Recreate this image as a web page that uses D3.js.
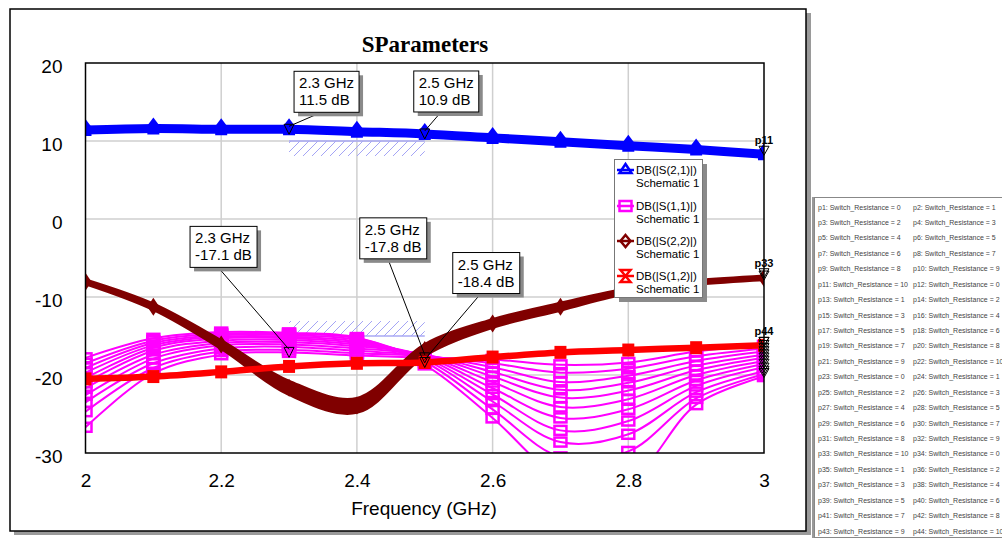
<!DOCTYPE html>
<html><head><meta charset="utf-8">
<script src="https://cdn.jsdelivr.net/npm/d3@7/dist/d3.min.js"></script>
<style>
body{margin:0;background:#fff;}
text{font-family:"Liberation Sans",Arial,sans-serif;}
</style>
</head><body>
<svg id="chart" width="1002" height="540"></svg>
<script>
// ---------- DATA ----------
const freqs = [2.0, 2.1, 2.2, 2.3, 2.4, 2.5, 2.6, 2.7, 2.8, 2.9, 3.0];
const s21 = [11.4, 11.6, 11.5, 11.5, 11.2, 10.9, 10.4, 9.9, 9.4, 8.9, 8.3];
const s22Upper = [-7.9, -11.0, -15.7, -20.9, -23.1, -16.2, -13.0, -10.9, -9.0, -8.0, -7.4];
const s22Lower = [-8.2, -11.5, -16.5, -22.4, -24.7, -17.4, -13.8, -11.6, -9.4, -8.3, -7.7];
const s12 = [-20.5, -20.2, -19.6, -18.9, -18.5, -18.4, -17.7, -17.1, -16.8, -16.5, -16.2];
// S11, one row per Switch_Resistance = 0..10
const s11Sweep = [
  [-26.7, -19.8, -17.4, -17.1, -17.5, -17.8, -18.0, -18.7, -18.4, -17.0, -16.2],
  [-24.7, -19.1, -17.0, -16.8, -17.2, -17.6, -18.5, -19.7, -19.2, -17.6, -16.6],
  [-23.5, -18.5, -16.6, -16.4, -16.9, -17.5, -19.0, -20.9, -20.1, -18.2, -17.0],
  [-22.6, -17.9, -16.2, -16.1, -16.6, -17.4, -19.6, -21.9, -21.0, -18.8, -17.4],
  [-21.7, -17.4, -15.9, -15.8, -16.3, -17.4, -20.2, -22.9, -22.0, -19.4, -17.8],
  [-21.0, -16.9, -15.6, -15.5, -16.1, -17.5, -20.9, -24.1, -23.1, -20.0, -18.2],
  [-20.4, -16.5, -15.3, -15.3, -15.9, -17.6, -21.7, -25.5, -24.4, -20.7, -18.6],
  [-19.7, -16.2, -15.1, -15.1, -15.7, -17.8, -22.5, -27.1, -25.9, -21.4, -19.0],
  [-19.1, -15.9, -14.9, -14.9, -15.5, -18.0, -23.4, -28.6, -27.6, -22.2, -19.5],
  [-18.5, -15.6, -14.7, -14.7, -15.3, -18.3, -24.4, -30.5, -29.8, -23.0, -19.9],
  [-17.8, -15.3, -14.5, -14.6, -15.2, -18.7, -25.5, -33.0, -33.5, -23.8, -20.2]
];
const yTicks = [20, 10, 0, -10, -20, -30];
const xTicks = [2, 2.2, 2.4, 2.6, 2.8, 3];
const legendNames = ["DB(|S(2,1)|)", "DB(|S(1,1)|)", "DB(|S(2,2)|)", "DB(|S(1,2)|)"];
const legendSub = "Schematic 1";
const switchResistance = [0,1,2,3,4,5,6,7,8,9,10];
// markers: frequency, value shown
const markerFreq = [2.3, 2.5, 2.3, 2.5, 2.5];
const markerVal = [11.5, 10.9, -17.1, -17.8, -18.4];
// goals: [f1, f2, level]
const goalS21 = [2.3, 2.5, 10];
const goalS11 = [2.3, 2.5, -15];
const endLabels = ["p11", "p33", "p44"];

// ---------- LAYOUT ----------
const W = 1002, H = 540;
const svg = d3.select("#chart");
const x = d3.scaleLinear().domain([2, 3]).range([85.5, 764]);
const y = d3.scaleLinear().domain([-30, 20]).range([453, 63]);
const COL = {s21:"#0000ff", s11:"#ff00ff", s22:"#800000", s12:"#ff0000"};

svg.append("rect").attr("width", W).attr("height", H).attr("fill", "#fff");
// outer frame with shadow
svg.append("rect").attr("x", 14).attr("y", 13).attr("width", 797).attr("height", 522).attr("fill", "#9a9a9a");
svg.append("rect").attr("x", 10).attr("y", 9).attr("width", 796).attr("height", 522)
  .attr("fill", "#fff").attr("stroke", "#000").attr("stroke-width", 1.5);

// title
svg.append("text").attr("x", 425).attr("y", 52).attr("text-anchor", "middle")
  .style("font-family", "'Liberation Serif','Times New Roman',serif")
  .style("font-weight", "bold").style("font-size", "23px").text("SParameters");

// defs
const defs = svg.append("defs");
defs.append("clipPath").attr("id", "plotclip").append("rect")
  .attr("x", 85.5).attr("y", 63).attr("width", 764 - 85.5).attr("height", 453 - 63);
const pat = defs.append("pattern").attr("id", "hatch").attr("patternUnits", "userSpaceOnUse")
  .attr("width", 9).attr("height", 9);
pat.append("path").attr("d", "M-1,10 L10,-1 M-2,2 L2,-2 M7,11 L11,7")
  .attr("stroke", "#a4a4f5").attr("stroke-width", 1);

// grid
const grid = svg.append("g");
grid.selectAll("line.gx").data(xTicks.filter(t => t > 2 && t < 3)).join("line")
  .attr("x1", d => x(d)).attr("x2", d => x(d)).attr("y1", 63).attr("y2", 453)
  .attr("stroke", "#cfcfcf").attr("stroke-width", 1.5);
grid.selectAll("line.gy").data(yTicks.filter(t => t > -30 && t < 20)).join("line")
  .attr("y1", d => y(d)).attr("y2", d => y(d)).attr("x1", 85.5).attr("x2", 764)
  .attr("stroke", "#cfcfcf").attr("stroke-width", 1.5);

// axes
const fmt = d => String(d);
const ax = svg.append("g").attr("transform", "translate(0,453)")
  .call(d3.axisBottom(x).tickValues(xTicks).tickSize(0).tickPadding(21).tickFormat(fmt));
const ay = svg.append("g").attr("transform", "translate(85.5,0)")
  .call(d3.axisLeft(y).tickValues(yTicks).tickSize(0).tickPadding(23).tickFormat(fmt));
[ax, ay].forEach(g => {
  g.select(".domain").remove();
  g.selectAll("text").style("font-size", "19px").attr("fill", "#000")
    .style("font-family", "'Liberation Sans',Arial,sans-serif");
});
ay.selectAll("text").attr("dy", "0.5em");
svg.append("text").attr("x", 424).attr("y", 515).attr("text-anchor", "middle")
  .style("font-size", "19px").text("Frequency (GHz)");

// goals (hatched)
const gG = svg.append("g");
gG.append("rect").attr("x", x(goalS21[0])).attr("y", y(goalS21[2]))
  .attr("width", x(goalS21[1]) - x(goalS21[0])).attr("height", 15).attr("fill", "url(#hatch)");
gG.append("line").attr("x1", x(goalS21[0])).attr("x2", x(goalS21[1]))
  .attr("y1", y(goalS21[2])).attr("y2", y(goalS21[2])).attr("stroke", "#a8a8f5").attr("stroke-width", 1.5);
gG.append("rect").attr("x", x(goalS11[0])).attr("y", y(goalS11[2]) - 15)
  .attr("width", x(goalS11[1]) - x(goalS11[0])).attr("height", 15).attr("fill", "url(#hatch)");
gG.append("line").attr("x1", x(goalS11[0])).attr("x2", x(goalS11[1]))
  .attr("y1", y(goalS11[2])).attr("y2", y(goalS11[2])).attr("stroke", "#a8a8f5").attr("stroke-width", 1.5);

// traces
const plot = svg.append("g").attr("clip-path", "url(#plotclip)");
const curve = d3.curveCatmullRom.alpha(0.5);
const line = d3.line().x((d, i) => x(freqs[i])).y(d => y(d)).curve(curve);

// S11 sweep
s11Sweep.forEach(arr => {
  plot.append("path").attr("d", line(arr)).attr("fill", "none")
    .attr("stroke", COL.s11).attr("stroke-width", 2);
});
s11Sweep.forEach(arr => {
  plot.selectAll(null).data(arr).join("rect")
    .attr("x", (d, i) => x(freqs[i]) - 6).attr("y", d => y(d) - 4.5)
    .attr("width", 12).attr("height", 9)
    .attr("fill", "none").attr("stroke", COL.s11).attr("stroke-width", 2.5);
});

// S22 (bundle of sweeps shown as a band between its envelopes)
const s22Area = d3.area().x((d, i) => x(freqs[i])).y0((d, i) => y(s22Lower[i])).y1(d => y(d)).curve(curve);
plot.append("path").attr("d", s22Area(s22Upper)).attr("fill", COL.s22)
  .attr("stroke", COL.s22).attr("stroke-width", 4.5).attr("stroke-linejoin", "round");
plot.selectAll(null).data(s22Upper).join("path")
  .attr("transform", (d, i) => `translate(${x(freqs[i])},${y((d + s22Lower[i]) / 2)})`)
  .attr("d", "M0,-9 L6,0 L0,9 L-6,0 Z").attr("fill", COL.s22);

// S12
plot.append("path").attr("d", line(s12)).attr("fill", "none")
  .attr("stroke", COL.s12).attr("stroke-width", 6.5);
plot.selectAll(null).data(s12).join("rect")
  .attr("x", (d, i) => x(freqs[i]) - 6).attr("y", d => y(d) - 6.5)
  .attr("width", 12).attr("height", 13).attr("fill", COL.s12);

// S21
plot.append("path").attr("d", line(s21)).attr("fill", "none")
  .attr("stroke", COL.s21).attr("stroke-width", 9);
plot.selectAll(null).data(s21).join("path")
  .attr("transform", (d, i) => `translate(${x(freqs[i])},${y(d)})`)
  .attr("d", "M0,-11 L6,-3 L6,6 L-6,6 L-6,-3 Z").attr("fill", COL.s21);

// plot border
svg.append("rect").attr("x", 85.5).attr("y", 63).attr("width", 764 - 85.5).attr("height", 453 - 63)
  .attr("fill", "none").attr("stroke", "#000").attr("stroke-width", 1.5);

// end-of-sweep markers at 3 GHz
const last = freqs.length - 1;
const endVals = [s21[last], s22Upper[last], s22Lower[last], s12[last]].concat(s11Sweep.map(a => a[last]));
svg.selectAll(null).data(endVals).join("path")
  .attr("transform", d => `translate(${x(3)},${y(d)})`)
  .attr("d", "M-5,-8 L5,-8 L0,1 Z").attr("fill", "none").attr("stroke", "#000").attr("stroke-width", 1);
const endLabelVals = [s21[last], s22Upper[last], s12[last]];
svg.selectAll(null).data(endLabelVals).join("text")
  .attr("x", x(3)).attr("y", d => y(d) - 10).attr("text-anchor", "middle")
  .style("font-size", "11px").style("font-weight", "bold").text((d, i) => endLabels[i]);

// marker callouts
const boxOffset = [[5, -58], [-11, -63], [-99, -126], [-65, -140], [28, -110]];
markerFreq.forEach((f, i) => {
  const px = x(f), py = y(markerVal[i]);
  const bx = px + boxOffset[i][0], by = py + boxOffset[i][1];
  const g = svg.append("g");
  const t1 = f.toFixed(1) + " GHz", t2 = markerVal[i].toFixed(1) + " dB";
  const tmp = g.append("text").style("font-size", "15px").text(t2.length > t1.length ? t2 : t1);
  const tw = tmp.node().getComputedTextLength(); tmp.remove();
  const bw = Math.round(tw + 10), bh = 41;
  g.append("line").attr("x1", bx + bw * 0.42).attr("y1", by + bh).attr("x2", px).attr("y2", py - 3)
    .attr("stroke", "#000").attr("stroke-width", 1);
  g.append("rect").attr("x", bx + 4).attr("y", by + 4).attr("width", bw).attr("height", bh).attr("fill", "#8a8a8a");
  g.append("rect").attr("x", bx).attr("y", by).attr("width", bw).attr("height", bh)
    .attr("fill", "#fff").attr("stroke", "#000").attr("stroke-width", 1);
  g.append("text").attr("x", bx + 5).attr("y", by + 17).style("font-size", "15px").text(t1);
  g.append("text").attr("x", bx + 5).attr("y", by + 34).style("font-size", "15px").text(t2);
  g.append("path").attr("transform", `translate(${px},${py})`)
    .attr("d", "M-5,-5 L5,-5 L0,5 Z").attr("fill", "none").attr("stroke", "#000").attr("stroke-width", 1);
});

// legend
const lg = svg.append("g");
lg.append("rect").attr("x", 619).attr("y", 164).attr("width", 88).attr("height", 138).attr("fill", "#8a8a8a");
lg.append("rect").attr("x", 614.5).attr("y", 159.5).attr("width", 88).attr("height", 138)
  .attr("fill", "#fff").attr("stroke", "#777").attr("stroke-width", 1);
const iconPaths = ["M0,-6 L6,3 L-6,3 Z", "M-6,-5 L6,-5 L6,5 L-6,5 Z", "M0,-6 L5,0 L0,6 L-5,0 Z", "M-5,-6 L5,-6 L-5,6 L5,6 Z"];
const iconCols = [COL.s21, COL.s11, COL.s22, COL.s12];
const legY = [170, 206, 241, 276];
legendNames.forEach((n, i) => {
  lg.append("line").attr("x1", 617).attr("x2", 634).attr("y1", legY[i]).attr("y2", legY[i])
    .attr("stroke", iconCols[i]).attr("stroke-width", 2.5);
  lg.append("path").attr("transform", `translate(625.5,${legY[i]})`).attr("d", iconPaths[i])
    .attr("fill", "none").attr("stroke", iconCols[i]).attr("stroke-width", 2.5);
  lg.append("text").attr("x", 636).attr("y", legY[i] + 4).style("font-size", "11.5px").text(n);
  lg.append("text").attr("x", 636).attr("y", legY[i] + 17).style("font-size", "11.5px").text(legendSub);
});

// parameter list panel
const pl = svg.append("g");
pl.append("rect").attr("x", 814.5).attr("y", 197.5).attr("width", 200).attr("height", 340)
  .attr("fill", "#fff").attr("stroke", "#888").attr("stroke-width", 1);
pl.append("line").attr("x1", 813).attr("x2", 813).attr("y1", 197).attr("y2", 538).attr("stroke", "#999").attr("stroke-width", 2);
const params = [];
for (let g = 0; g < 4; g++) switchResistance.forEach(r => params.push(r));
params.forEach((r, i) => {
  const row = Math.floor(i / 2), col = i % 2;
  pl.append("text").attr("x", col ? 913 : 818).attr("y", 209.5 + row * 15.43)
    .style("font-size", "7px").attr("fill", "#444")
    .text(`p${i + 1}: Switch_Resistance = ${r}`);
});
</script>
</body></html>
